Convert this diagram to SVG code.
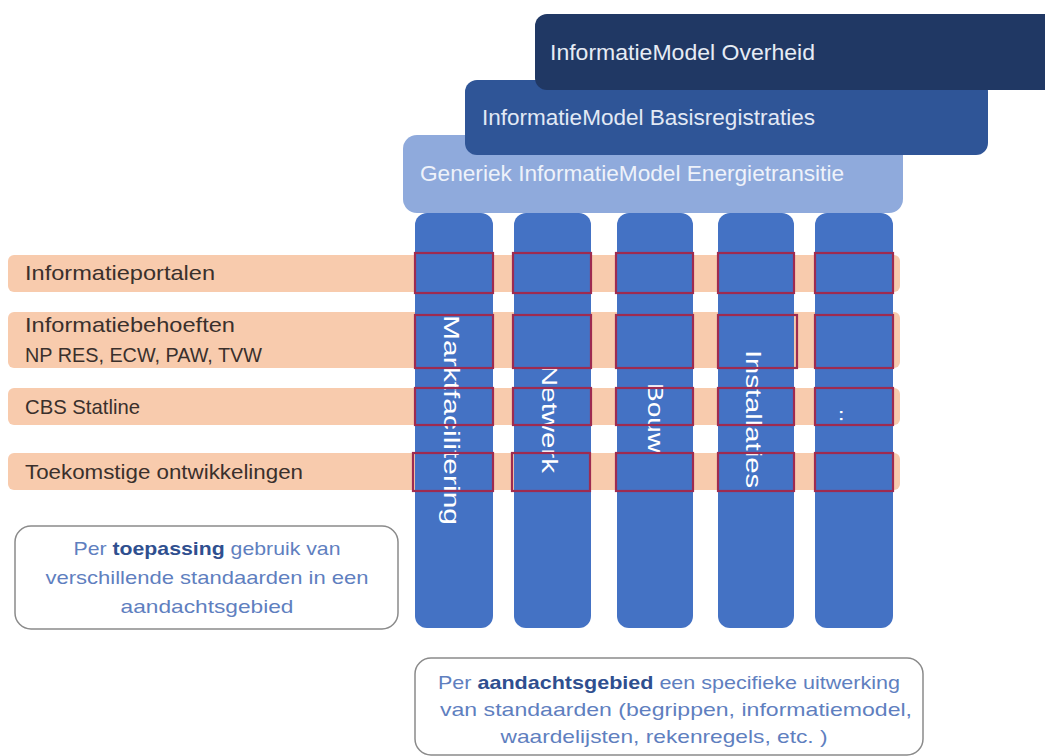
<svg xmlns="http://www.w3.org/2000/svg" width="1045" height="756" viewBox="0 0 1045 756">
<style>
text{font-family:"Liberation Sans",Arial,sans-serif}
.hdr{font-size:22px}
.row{fill:#f8cbad}
.lbl{font-size:21px;fill:#3a302c}
.col{fill:#4472c4}
.coltxt{font-size:22px;fill:#ffffff;text-anchor:middle}
.cell{fill:none;stroke:#9e2b50;stroke-width:2.2}
.note{fill:#ffffff;stroke:#8a8a8a;stroke-width:1.5}
.notetxt{font-size:19px;fill:#5f7fbf;text-anchor:middle}
.b{font-weight:bold;fill:#2f4f8f}
</style>
<rect width="1045" height="756" fill="#ffffff"/>

<g id="generiek">
<rect x="403" y="135" width="500" height="78" rx="14" fill="#8faadc"/>
<text class="hdr" x="420" y="181" fill="#eef2fa" textLength="424" lengthAdjust="spacingAndGlyphs">Generiek InformatieModel Energietransitie</text>
</g>
<g id="basisregistraties">
<rect x="465" y="80" width="523" height="75" rx="12" fill="#2f5597"/>
<text class="hdr" x="482" y="125" fill="#e2e9f5" textLength="333" lengthAdjust="spacingAndGlyphs">InformatieModel Basisregistraties</text>
</g>
<g id="overheid">
<rect x="535" y="14" width="530" height="76" rx="12" fill="#203864"/>
<text class="hdr" x="550" y="60" fill="#e6ecf5" textLength="265" lengthAdjust="spacingAndGlyphs">InformatieModel Overheid</text>
</g>

<g id="rows">
<g id="row-informatieportalen">
<rect class="row" x="8" y="255" width="892" height="37" rx="6"/>
<text class="lbl" x="25" y="280" textLength="190" lengthAdjust="spacingAndGlyphs">Informatieportalen</text>
</g>
<g id="row-informatiebehoeften">
<rect class="row" x="8" y="312" width="892" height="56" rx="6"/>
<text class="lbl" x="25" y="332" textLength="210" lengthAdjust="spacingAndGlyphs">Informatiebehoeften</text>
<text class="lbl" x="25" y="362" style="font-size:20px" textLength="237" lengthAdjust="spacingAndGlyphs">NP RES, ECW, PAW, TVW</text>
</g>
<g id="row-cbs">
<rect class="row" x="8" y="388" width="892" height="37" rx="6"/>
<text class="lbl" x="25" y="414" textLength="115" lengthAdjust="spacingAndGlyphs">CBS Statline</text>
</g>
<g id="row-toekomstige">
<rect class="row" x="8" y="453" width="892" height="37" rx="6"/>
<text class="lbl" x="25" y="479" textLength="278" lengthAdjust="spacingAndGlyphs">Toekomstige ontwikkelingen</text>
</g>
</g>

<g id="col-marktfacilitering">
<rect class="col" x="415" y="213" width="78" height="415" rx="12"/>
<text class="coltxt" transform="translate(444,420) rotate(90)" x="0" y="0" textLength="210" lengthAdjust="spacingAndGlyphs">Marktfacilitering</text>
</g>
<g id="col-netwerk">
<rect class="col" x="514" y="213" width="77" height="415" rx="12"/>
<text class="coltxt" transform="translate(542,419) rotate(90)" x="0" y="0" textLength="108" lengthAdjust="spacingAndGlyphs">Netwerk</text>
</g>
<g id="col-bouw">
<rect class="col" x="617" y="213" width="76" height="415" rx="12"/>
<text class="coltxt" transform="translate(648,418) rotate(90)" x="0" y="0" textLength="70" lengthAdjust="spacingAndGlyphs">Bouw</text>
</g>
<g id="col-installaties">
<rect class="col" x="718" y="213" width="76" height="415" rx="12"/>
<text class="coltxt" transform="translate(746,419) rotate(90)" x="0" y="0" textLength="138" lengthAdjust="spacingAndGlyphs">Installaties</text>
</g>
<g id="col-overig">
<rect class="col" x="815" y="213" width="78" height="415" rx="12"/>
<text class="coltxt" transform="translate(840,416) rotate(90)" x="0" y="0" letter-spacing="1">..</text>
</g>

<g id="cells">
<rect class="cell" x="415" y="253" width="78" height="40"/>
<rect class="cell" x="513" y="253" width="78" height="40"/>
<rect class="cell" x="616" y="253" width="77" height="40"/>
<rect class="cell" x="718" y="253" width="76" height="40"/>
<rect class="cell" x="815" y="253" width="78" height="40"/>
<rect class="cell" x="415" y="315" width="78" height="53"/>
<rect class="cell" x="513" y="315" width="78" height="53"/>
<rect class="cell" x="616" y="315" width="77" height="53"/>
<rect class="cell" x="718" y="315" width="79" height="53"/>
<rect class="cell" x="815" y="315" width="78" height="53"/>
<rect class="cell" x="415" y="388" width="78" height="37"/>
<rect class="cell" x="513" y="388" width="78" height="37"/>
<rect class="cell" x="616" y="388" width="77" height="37"/>
<rect class="cell" x="718" y="388" width="76" height="37"/>
<rect class="cell" x="815" y="388" width="78" height="37"/>
<rect class="cell" x="413" y="453" width="80" height="38"/>
<rect class="cell" x="512" y="453" width="78" height="38"/>
<rect class="cell" x="616" y="453" width="77" height="38"/>
<rect class="cell" x="718" y="453" width="76" height="38"/>
<rect class="cell" x="815" y="453" width="78" height="38"/>
</g>

<g id="note-toepassing">
<rect class="note" x="15" y="526" width="383" height="103" rx="16"/>
<text class="notetxt" x="207" y="555" textLength="267" lengthAdjust="spacingAndGlyphs">Per <tspan class="b">toepassing</tspan> gebruik van</text>
<text class="notetxt" x="207" y="584" textLength="323" lengthAdjust="spacingAndGlyphs">verschillende standaarden in een</text>
<text class="notetxt" x="207" y="613" textLength="173" lengthAdjust="spacingAndGlyphs">aandachtsgebied</text>
</g>

<g id="note-aandachtsgebied">
<rect class="note" x="415" y="658" width="508" height="97" rx="16"/>
<text class="notetxt" x="669" y="689" textLength="462" lengthAdjust="spacingAndGlyphs">Per <tspan class="b">aandachtsgebied</tspan> een specifieke uitwerking</text>
<text class="notetxt" x="676" y="716" textLength="472" lengthAdjust="spacingAndGlyphs">van standaarden (begrippen, informatiemodel,</text>
<text class="notetxt" x="664" y="743" textLength="327" lengthAdjust="spacingAndGlyphs">waardelijsten, rekenregels, etc. )</text>
</g>

<g id="connectors"></g>
</svg>
